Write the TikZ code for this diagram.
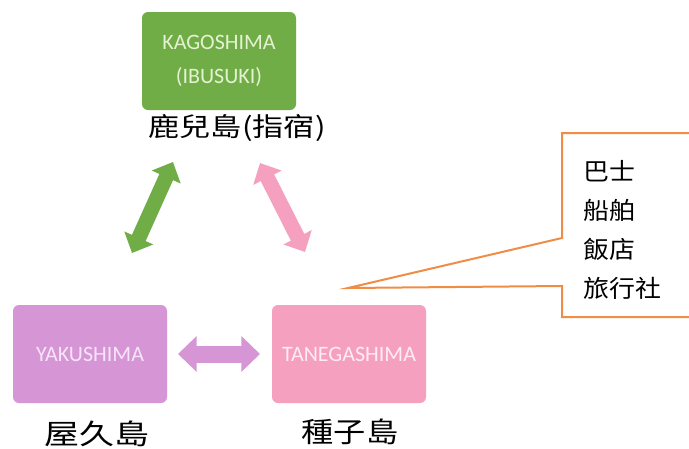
\documentclass[tikz,border=0pt]{standalone}
\usepackage{fontspec}
\usepackage{graphicx}
\setmainfont{Carlito}
\newfontfamily\cjk{Noto Sans CJK TC}
\usetikzlibrary{arrows.meta}
\definecolor{kgreen}{RGB}{112,173,71}
\definecolor{kpurple}{RGB}{214,150,214}
\definecolor{kpink}{RGB}{246,160,192}
\definecolor{korange}{RGB}{240,140,70}
\definecolor{tgreen}{RGB}{228,242,210}
\definecolor{tpurple}{RGB}{248,228,248}
\definecolor{tpink}{RGB}{255,236,242}
\tikzset{
  island/.style={rounded corners=6pt, minimum width=154pt, minimum height=98pt, inner sep=0pt,
    font=\fontsize{22}{28}\selectfont, align=center},
  cjklabel/.style={inner sep=0pt, font=\cjk\fontsize{26}{30}\selectfont},
  fatarrow/.style={line width=#1, {Triangle[width=2.05*#1,length=1.1*#1]}-{Triangle[width=2.05*#1,length=1.1*#1]}},
}
\begin{document}
\begin{tikzpicture}[x=1pt,y=-1pt]
\useasboundingbox (0,0) rectangle (689,448);
\fill[white] (0,0) rectangle (689,448);
% boxes
\node[island, fill=kgreen, text=tgreen] (kago) at (219,61) {KAGOSHIMA\\[6pt](IBUSUKI)};
\node[island, fill=kpurple, text=tpurple] (yaku) at (90,354) {YAKUSHIMA};
\node[island, fill=kpink, text=tpink] (tane) at (349,354) {TANEGASHIMA};
% labels
\node[cjklabel] (kagol) at (237,128) {\scalebox{1.2}[1]{鹿兒島(指宿)}};
\node[cjklabel] (yakul) at (97,434) {\scalebox{1.25}[1]{\fontsize{28}{30}\selectfont 屋久島}};
\node[cjklabel] (tanel) at (350,432) {\scalebox{1.15}[1]{\fontsize{28}{30}\selectfont 種子島}};
% arrow ends
\coordinate (g1) at (132,253); \coordinate (g2) at (173,162);
\coordinate (p1) at (260,163); \coordinate (p2) at (305,252);
\coordinate (h1) at (178,354); \coordinate (h2) at (260,354);
\draw[fatarrow=15pt, draw=kgreen, fill=kgreen] (g1) -- (g2);
\draw[fatarrow=15pt, draw=kpink, fill=kpink] (p1) -- (p2);
\draw[fatarrow=17pt, draw=kpurple, fill=kpurple] (h1) -- (h2);
% callout
\node[inner sep=0pt, anchor=north west, align=left, font=\cjk\fontsize{24}{39}\selectfont] (svc) at (583,160)
  {\scalebox{1.08}[1]{巴士}\\\scalebox{1.08}[1]{船舶}\\\scalebox{1.08}[1]{飯店}\\\scalebox{1.08}[1]{旅行社}};
\coordinate (tip) at (348,288);
\draw[korange, line width=2pt, line join=miter]
  (562,238) -- (562,133) -- (700,133) -- (700,317) -- (562,317) -- (562,286) -- (tip) -- cycle;
\end{tikzpicture}
\end{document}
